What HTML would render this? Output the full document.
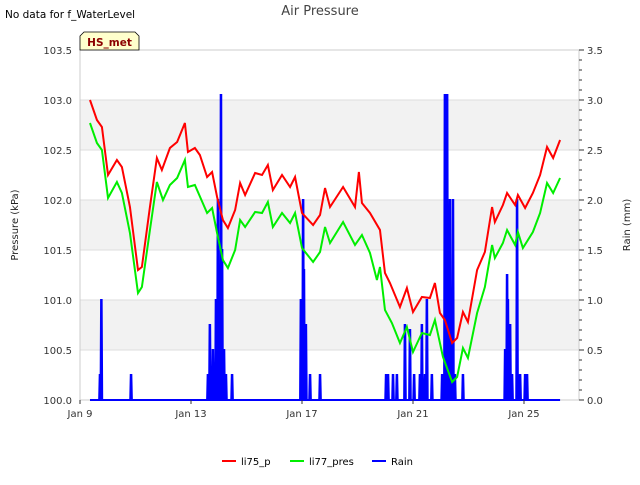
<!DOCTYPE html>
<html><head><meta charset="utf-8"><style>
body{margin:0;background:#fff;}
svg text{font-family:"DejaVu Sans","Liberation Sans",sans-serif;}
</style></head><body>
<svg id="chart" width="640" height="480" viewBox="0 0 640 480" xmlns="http://www.w3.org/2000/svg">
<text x="5" y="18" font-size="10.5" fill="#000">No data for f_WaterLevel</text>
<text x="320" y="15" font-size="13" fill="#444" text-anchor="middle">Air Pressure</text>
<g id="bands"></g>
<g id="grid"></g>
<rect x="80" y="50" width="499" height="350" fill="none" stroke="#ccc" stroke-width="1"/>
<g id="series"></g>
<g id="axes"></g>
<g>
<path d="M80,50 L80,36 L84,32 L135,32 L139,36 L139,50 Z" fill="#ffffcc" stroke="#000" stroke-width="0.8"/>
<text x="109.5" y="46" font-size="10.5" font-weight="bold" fill="#8b0000" text-anchor="middle">HS_met</text>
</g>
<text transform="translate(18,225) rotate(-90)" font-size="10" text-anchor="middle" fill="#222">Pressure (kPa)</text>
<text transform="translate(630,225) rotate(-90)" font-size="10" text-anchor="middle" fill="#222">Rain (mm)</text>
<g>
<line x1="222" y1="461" x2="236" y2="461" stroke="#ff0000" stroke-width="2"/><text x="241" y="465" font-size="10">li75_p</text>
<line x1="290" y1="461" x2="304" y2="461" stroke="#00ee00" stroke-width="2"/><text x="309" y="465" font-size="10">li77_pres</text>
<line x1="372" y1="461" x2="386" y2="461" stroke="#0000ff" stroke-width="2"/><text x="391" y="465" font-size="10">Rain</text>
</g>
</svg>
<script>
const xTickLabels=["Jan 9","Jan 13","Jan 17","Jan 21","Jan 25"];
const xTickDays=[0,4,8,12,16];
const yTickLabels=["100.0","100.5","101.0","101.5","102.0","102.5","103.0","103.5"];
const yRightLabels=["0.0","0.5","1.0","1.5","2.0","2.5","3.0","3.5"];
const redDays=[0.36,0.61,0.79,1.01,1.33,1.51,1.80,2.09,2.23,2.52,2.77,2.95,3.24,3.50,3.78,3.89,4.14,4.32,4.58,4.76,4.94,5.15,5.33,5.59,5.77,5.95,6.31,6.56,6.77,6.95,7.28,7.57,7.75,8.00,8.40,8.65,8.83,9.01,9.48,9.91,10.05,10.16,10.45,10.81,10.99,11.17,11.53,11.78,12.00,12.32,12.61,12.79,12.97,13.15,13.41,13.59,13.80,13.98,14.31,14.59,14.85,14.95,15.24,15.39,15.68,15.78,16.04,16.32,16.58,16.83,17.05,17.30];
const redVals=[103.00,102.80,102.73,102.25,102.40,102.33,101.93,101.30,101.33,101.93,102.42,102.30,102.52,102.58,102.77,102.48,102.52,102.45,102.23,102.28,102.03,101.80,101.72,101.90,102.17,102.05,102.27,102.25,102.35,102.10,102.25,102.13,102.23,101.87,101.75,101.85,102.12,101.93,102.13,101.93,102.28,101.97,101.87,101.70,101.27,101.17,100.93,101.12,100.88,101.03,101.02,101.17,100.87,100.80,100.57,100.62,100.88,100.78,101.30,101.48,101.93,101.78,101.95,102.07,101.95,102.05,101.92,102.07,102.25,102.53,102.42,102.60];
const greenDays=[0.36,0.61,0.79,1.01,1.33,1.51,1.80,2.09,2.23,2.52,2.77,2.99,3.24,3.50,3.78,3.89,4.14,4.58,4.76,4.94,5.15,5.33,5.59,5.77,5.95,6.31,6.56,6.77,6.95,7.28,7.57,7.75,8.00,8.40,8.65,8.83,9.01,9.48,9.91,10.16,10.45,10.70,10.81,10.99,11.24,11.53,11.78,12.00,12.32,12.61,12.79,13.08,13.41,13.59,13.80,13.98,14.31,14.59,14.85,14.95,15.24,15.39,15.68,15.78,15.96,16.32,16.58,16.83,17.05,17.30];
const greenVals=[102.77,102.57,102.50,102.02,102.18,102.07,101.67,101.07,101.13,101.70,102.18,102.00,102.15,102.22,102.40,102.13,102.15,101.87,101.92,101.67,101.40,101.32,101.50,101.80,101.73,101.88,101.87,101.98,101.73,101.87,101.77,101.87,101.52,101.38,101.48,101.73,101.57,101.78,101.55,101.65,101.47,101.20,101.33,100.90,100.77,100.57,100.73,100.48,100.67,100.65,100.80,100.43,100.18,100.23,100.52,100.42,100.87,101.13,101.55,101.42,101.57,101.70,101.55,101.68,101.52,101.68,101.87,102.17,102.07,102.22];
const rainDays=[0.72,0.77,1.84,4.61,4.68,4.79,4.90,4.97,5.08,5.12,5.19,5.26,5.48,7.96,8.04,8.07,8.14,8.29,8.65,11.03,11.10,11.28,11.42,11.71,11.89,12.04,12.25,12.32,12.43,12.50,12.68,13.05,13.15,13.23,13.33,13.44,13.51,13.80,15.32,15.39,15.42,15.50,15.57,15.75,15.86,16.04,16.11];
const rainVals=[0.25,1.0,0.25,0.25,0.75,0.5,1.0,2.0,3.05,1.5,0.5,0.25,0.25,1.0,2.0,1.3,0.75,0.25,0.25,0.25,0.25,0.25,0.25,0.75,0.7,0.25,0.25,0.75,0.25,1.0,0.25,0.25,3.05,3.05,2.0,2.0,0.25,0.25,0.5,1.25,1.0,0.75,0.25,2.0,0.25,0.25,0.25];
const rainStart=0.36, rainEnd=17.3;

const NS="http://www.w3.org/2000/svg";
const X0=80,X1=579,Y0=50,Y1=400;
const xs=d=>X0+d*27.75;
const ys=v=>Y1-(v-100)*100;
const yr=v=>Y1-v*100;
function mk(tag,attrs,parent){const e=document.createElementNS(NS,tag);for(const k in attrs)e.setAttribute(k,attrs[k]);parent.appendChild(e);return e;}
const bands=document.getElementById('bands'),grid=document.getElementById('grid'),axes=document.getElementById('axes'),series=document.getElementById('series');
[[100.5,101],[101.5,102],[102.5,103]].forEach(b=>{const r=mk('rect',{x:X0,y:ys(b[1]),width:X1-X0,height:ys(b[0])-ys(b[1]),fill:'#f2f2f2'},bands);

});
yTickLabels.forEach((t,i)=>{const v=100+i*0.5;
const l=mk('line',{x1:X0,x2:X1,y1:ys(v),y2:ys(v),stroke:'#ddd','stroke-width':1},grid);


const tx=mk('text',{x:X0-8,y:ys(v)+4,'font-size':10,fill:'#333','text-anchor':'end'},axes);tx.textContent=t;

});
yRightLabels.forEach((t,i)=>{const v=i*0.5;
const tx=mk('text',{x:X1+8,y:yr(v)+4,'font-size':10,fill:'#333'},axes);tx.textContent=t;

});
for(let i=0;i<=35;i++){const len=(i%5===0)?5:3;
const l=mk('line',{x1:X1,x2:X1+len,y1:yr(i*0.1),y2:yr(i*0.1),stroke:'#333','stroke-width':1},axes);

}
xTickLabels.forEach((t,i)=>{const x=xs(xTickDays[i]);
const l=mk('line',{x1:x,x2:x,y1:Y1,y2:Y1+4,stroke:'#333'},axes);


const tx=mk('text',{x:x,y:Y1+17,'font-size':10,fill:'#333','text-anchor':'middle'},axes);tx.textContent=t;

});
// rain
let rp=[[xs(rainStart),yr(0)]];
rainDays.forEach((d,i)=>{rp.push([xs(d-0.03),yr(0)],[xs(d-0.01),yr(rainVals[i])],[xs(d+0.01),yr(rainVals[i])],[xs(d+0.03),yr(0)]);});
rp.push([xs(rainEnd),yr(0)]);
const rain=mk('polyline',{points:rp.map(p=>p.join(',')).join(' '),fill:'none',stroke:'#0000ff','stroke-width':2},series);


const g=mk('polyline',{points:greenDays.map((d,i)=>xs(d)+','+ys(greenVals[i])).join(' '),fill:'none',stroke:'#00ee00','stroke-width':2},series);


const r=mk('polyline',{points:redDays.map((d,i)=>xs(d)+','+ys(redVals[i])).join(' '),fill:'none',stroke:'#ff0000','stroke-width':2},series);


</script>
</body></html>
